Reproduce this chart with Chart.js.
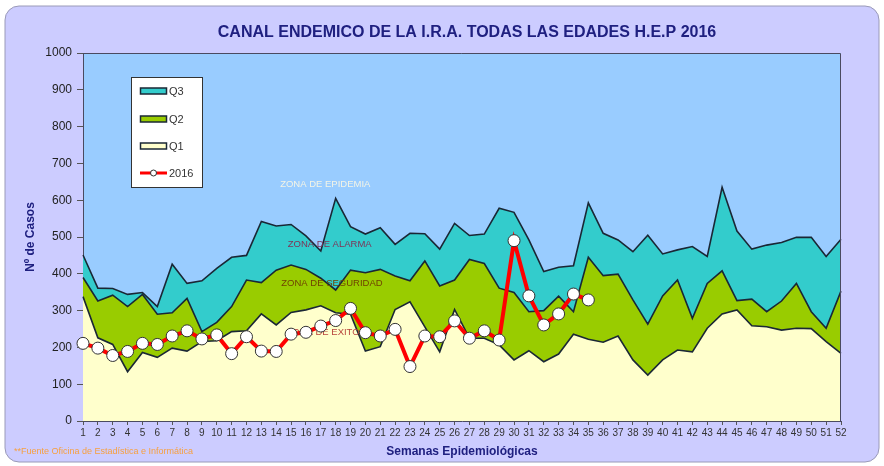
<!DOCTYPE html>
<html>
<head>
<meta charset="utf-8">
<title>Canal endemico IRA 2016</title>
<script src="https://cdn.jsdelivr.net/npm/chart.js@4/dist/chart.umd.min.js"></script>
<style>
    html, body { margin: 0; padding: 0; background: #ffffff; }
    #wrap { width: 884px; height: 466px; }
</style>
</head>
<body>
<div id="wrap"><canvas id="canalChart" width="884" height="466"></canvas></div>
<script>
const weeks = ['1','2','3','4','5','6','7','8','9','10','11','12','13','14','15','16','17','18','19','20',
    '21','22','23','24','25','26','27','28','29','30','31','32','33','34','35','36','37','38','39','40',
    '41','42','43','44','45','46','47','48','49','50','51','52'];

const q3 = [451, 361, 360, 344, 349, 311, 426, 374, 381, 415, 445, 450, 542, 530, 534, 503, 462, 605, 528, 508,
    525, 480, 510, 509, 467, 537, 504, 508, 578, 567, 492, 406, 418, 422, 593, 510, 492, 460, 505, 454,
    465, 474, 447, 635, 516, 467, 478, 485, 499, 499, 447, 494];

const q2 = [390, 326, 342, 311, 344, 290, 294, 333, 243, 268, 311, 383, 376, 410, 424, 412, 388, 356, 410, 403,
    412, 394, 381, 435, 367, 383, 439, 428, 361, 349, 297, 300, 339, 297, 445, 395, 399, 329, 263, 340,
    383, 279, 374, 408, 327, 331, 297, 326, 374, 297, 252, 353];

const q1 = [338, 226, 208, 134, 186, 173, 198, 190, 216, 218, 243, 245, 291, 261, 295, 302, 313, 294, 290, 190,
    202, 303, 324, 256, 188, 303, 225, 225, 207, 166, 191, 161, 182, 236, 222, 214, 231, 166, 125, 166,
    193, 188, 252, 291, 302, 259, 256, 247, 252, 251, 216, 184];

const cases2016 = [211, 198, 178, 189, 211, 208, 231, 245, 223, 234, 183, 229, 190, 189, 236, 241, 258, 273, 306, 240,
    231, 249, 148, 231, 229, 272, 225, 245, 220, 490, 340, 261, 291, 345, 329];

const yTicks = [0, 100, 200, 300, 400, 500, 600, 700, 800, 900, 1000];

const zoneLabels = ['ZONA DE EPIDEMIA', 'ZONA DE ALARMA', 'ZONA DE SEGURIDAD', 'ZONA DE EXITO'];

const chartTitle = 'CANAL ENDEMICO DE LA I.R.A. TODAS LAS EDADES H.E.P 2016';

const FONT = "'Liberation Sans', Arial, sans-serif";
const NAVY = '#1f2080';
const EDGE = '#1a2735';

// frame, plot background, zone texts, legend, title and source note
const decorations = {
    id: 'decorations',
    beforeDraw(chart) {
        const ctx = chart.ctx;
        const a = chart.chartArea;
        ctx.save();
        ctx.fillStyle = '#ffffff';
        ctx.fillRect(0, 0, chart.width, chart.height);
        ctx.beginPath();
        ctx.roundRect(5, 6, 874, 456, 14);
        ctx.fillStyle = '#ccccff';
        ctx.fill();
        ctx.lineWidth = 1;
        ctx.strokeStyle = '#9a9ab8';
        ctx.stroke();
        ctx.fillStyle = '#99ccff';
        ctx.fillRect(a.left, a.top, a.right - a.left, a.bottom - a.top);

        ctx.font = 'bold 16px ' + FONT;
        ctx.fillStyle = NAVY;
        ctx.textAlign = 'center';
        ctx.textBaseline = 'middle';
        ctx.fillText(chartTitle, 467, 33);
        ctx.restore();
    },
    beforeDatasetDraw(chart, args) {
        // zone texts go under the 2016 line
        if (args.index !== 0) return;
        const ctx = chart.ctx;
        const x = chart.scales.x;
        const y = chart.scales.y;
        const spots = [[16.3, 644, '#f4f4e6'], [16.6, 481, '#7e3458'], [16.75, 375, '#704400'], [16.15, 242, '#b8453c']];
        ctx.save();
        ctx.font = '9.5px ' + FONT;
        ctx.textAlign = 'center';
        ctx.textBaseline = 'middle';
        zoneLabels.forEach((txt, i) => {
            ctx.fillStyle = spots[i][2];
            ctx.fillText(txt, x.getPixelForValue(spots[i][0]), y.getPixelForValue(spots[i][1]));
        });
        ctx.restore();
    },
    afterDraw(chart) {
        const ctx = chart.ctx;
        const a = chart.chartArea;
        ctx.save();
        // plot border top / right
        ctx.strokeStyle = '#4a4a60';
        ctx.lineWidth = 1;
        ctx.beginPath();
        ctx.moveTo(a.left, a.top + 0.5);
        ctx.lineTo(a.right - 0.5, a.top + 0.5);
        ctx.lineTo(a.right - 0.5, a.bottom);
        ctx.stroke();

        // legend box
        ctx.fillStyle = '#ffffff';
        ctx.fillRect(131.5, 77.5, 71, 110);
        ctx.strokeStyle = '#333333';
        ctx.strokeRect(131.5, 77.5, 71, 110);
        const order = [3, 2, 1, 0];
        const rowsY = [91, 119, 146, 173];
        ctx.font = '11px ' + FONT;
        ctx.textBaseline = 'middle';
        ctx.textAlign = 'left';
        order.forEach((di, i) => {
            const ds = chart.data.datasets[di];
            const yy = rowsY[i];
            if (di === 0) {
                ctx.strokeStyle = ds.borderColor;
                ctx.lineWidth = 3;
                ctx.beginPath();
                ctx.moveTo(140, yy);
                ctx.lineTo(167, yy);
                ctx.stroke();
                ctx.beginPath();
                ctx.arc(153.5, yy, 3, 0, Math.PI * 2);
                ctx.fillStyle = '#ffffff';
                ctx.fill();
                ctx.lineWidth = 1;
                ctx.strokeStyle = '#333333';
                ctx.stroke();
            } else {
                ctx.fillStyle = ds.backgroundColor;
                ctx.fillRect(140.5, yy - 3, 26, 6);
                ctx.lineWidth = 1.5;
                ctx.strokeStyle = EDGE;
                ctx.strokeRect(140.5, yy - 3, 26, 6);
            }
            ctx.fillStyle = '#333333';
            ctx.fillText(ds.label, 169, yy + 0.5);
        });

        // source note
        ctx.font = '9px ' + FONT;
        ctx.fillStyle = '#f7a040';
        ctx.fillText('**Fuente Oficina de Estadística e Informática', 14, 452);
        ctx.restore();
    }
};

const ctx = document.getElementById('canalChart');
new Chart(ctx, {
    type: 'line',
    data: {
        labels: weeks,
        datasets: [{
            label: '2016',
            data: cases2016,
            borderColor: '#ff0000',
            borderWidth: 4,
            pointRadius: 6,
            pointBackgroundColor: '#ffffff',
            pointBorderColor: '#333333',
            pointBorderWidth: 1,
            fill: false,
            tension: 0
        }, {
            label: 'Q1',
            data: q1,
            borderColor: EDGE,
            backgroundColor: '#ffffcc',
            borderWidth: 1.6,
            pointRadius: 0,
            fill: 'origin',
            tension: 0
        }, {
            label: 'Q2',
            data: q2,
            borderColor: EDGE,
            backgroundColor: '#99cc00',
            borderWidth: 1.6,
            pointRadius: 0,
            fill: 'origin',
            tension: 0
        }, {
            label: 'Q3',
            data: q3,
            borderColor: EDGE,
            backgroundColor: '#33cccc',
            borderWidth: 1.6,
            pointRadius: 0,
            fill: 'origin',
            tension: 0
        }]
    },
    options: {
        responsive: false,
        animation: false,
        events: [],
        layout: { padding: { top: 53, left: 8, right: 43, bottom: 0 } },
        plugins: {
            legend: { display: false },
            tooltip: { enabled: false },
            title: { display: false }
        },
        scales: {
            x: {
                type: 'category',
                offset: false,
                afterFit(scale) { scale.height = 45; },
                ticks: {
                    autoSkip: false,
                    maxRotation: 0,
                    minRotation: 0,
                    padding: 2,
                    color: '#333333',
                    font: { family: FONT, size: 10 }
                },
                grid: { drawOnChartArea: false, tickLength: 4, color: '#555555' },
                border: { color: '#4a4a60' },
                title: {
                    display: true,
                    text: 'Semanas Epidemiológicas',
                    color: NAVY,
                    font: { family: FONT, size: 12, weight: 'bold' },
                    padding: { top: 0, bottom: 7 }
                }
            },
            y: {
                min: 0,
                max: 1000,
                afterFit(scale) { scale.width = 75; },
                afterBuildTicks(scale) { scale.ticks = yTicks.map(v => ({ value: v })); },
                ticks: {
                    padding: 5,
                    color: '#222222',
                    font: { family: FONT, size: 12 },
                    callback: value => String(value)
                },
                grid: { drawOnChartArea: false, tickLength: 6, color: '#555555' },
                border: { color: '#4a4a60' },
                title: {
                    display: true,
                    text: 'Nº de Casos',
                    color: NAVY,
                    font: { family: FONT, size: 12, weight: 'bold' },
                    padding: { top: 15, bottom: 0 }
                }
            }
        }
    },
    plugins: [decorations]
});
</script>
</body>
</html>
